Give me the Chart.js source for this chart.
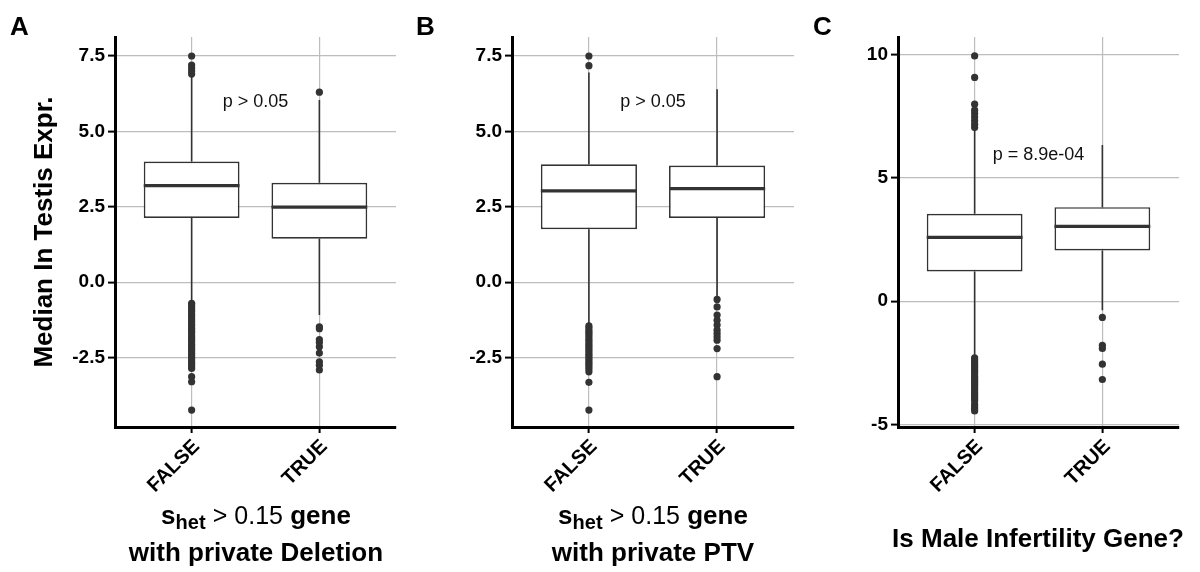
<!DOCTYPE html>
<html>
<head>
<meta charset="utf-8">
<script src="https://cdn.jsdelivr.net/npm/chart.js@4.4.1/dist/chart.umd.min.js"></script>
<style>
  body { margin: 0; background: #fff; }
  #wrap { position: relative; width: 1200px; height: 572px; overflow: hidden; font-family: "Liberation Sans", Arial, sans-serif; color: #000; }
  .panel { position: absolute; top: 0; width: 400px; height: 572px; }
  .letter { position: absolute; top: 11px; font-size: 26px; font-weight: bold; line-height: 30px; }
  .xtitle { position: absolute; width: 400px; text-align: center; font-size: 26px; font-weight: bold; line-height: 37px; white-space: nowrap; }
  .xtitle sub { font-size: 20px; vertical-align: -5px; line-height: 0; }
  .xtitle .rel { font-weight: normal; font-size: 25px; }
</style>
</head>
<body>
<div id="wrap">
  <div class="panel" style="left:0"><canvas id="chart-del" width="400" height="572"></canvas></div>
  <div class="panel" style="left:400px"><canvas id="chart-ptv" width="400" height="572"></canvas></div>
  <div class="panel" style="left:800px"><canvas id="chart-inf" width="400" height="572"></canvas></div>

  <div class="letter" style="left:10px">A</div>
  <div class="letter" style="left:416px">B</div>
  <div class="letter" style="left:813px">C</div>

  <div class="xtitle" style="left:56px; top:497px">s<sub>het</sub> <span class="rel">&gt; 0.15</span> gene<br>with private Deletion</div>
  <div class="xtitle" style="left:453px; top:497px">s<sub>het</sub> <span class="rel">&gt; 0.15</span> gene<br>with private PTV</div>
  <div class="xtitle" style="left:838px; top:520px">Is Male Infertility Gene?</div>
</div>

<script>
const groups = ["FALSE", "TRUE"];

// A: s_het > 0.15 gene with private Deletion
const delQ1 = [2.13, 1.44];
const delMedian = [3.20, 2.49];
const delQ3 = [4.00, 3.30];
const delLower = [-0.65, -1.09];
const delUpper = [6.85, 6.04];
const delOutliersFalse = [7.50, 7.20, 7.10, 7.00, 6.90,
    -0.70, -0.76, -0.84, -0.92, -0.98, -1.07, -1.14, -1.22, -1.29, -1.38, -1.44, -1.53,
    -1.60, -1.66, -1.75, -1.83, -1.90, -1.97, -2.06, -2.13, -2.21, -2.27, -2.36, -2.44,
    -2.51, -2.58, -2.66, -2.73, -2.80, -2.86, -3.13, -3.30, -4.24];
const delOutliersTrue = [6.30, -1.48, -1.54, -1.90, -2.00, -2.14, -2.35, -2.64, -2.75, -2.91];

// B: s_het > 0.15 gene with private PTV
const ptvQ1 = [1.76, 2.13];
const ptvMedian = [3.03, 3.10];
const ptvQ3 = [3.91, 3.87];
const ptvLower = [-1.40, -0.50];
const ptvUpper = [6.95, 6.40];
const ptvOutliersFalse = [7.50, 7.18,
    -1.45, -1.52, -1.60, -1.67, -1.74, -1.82, -1.90, -1.97, -2.05, -2.12, -2.20, -2.27,
    -2.35, -2.42, -2.50, -2.57, -2.65, -2.72, -2.80, -2.88, -2.97, -3.32, -4.24];
const ptvOutliersTrue = [-0.57, -0.82, -1.09, -1.26, -1.42, -1.59, -1.70, -1.81, -1.92, -2.20, -3.13];

// C: Is male infertility gene?
const infQ1 = [1.21, 2.06];
const infMedian = [2.59, 3.04];
const infQ3 = [3.55, 3.82];
const infLower = [-2.24, -0.37];
const infUpper = [6.95, 6.34];
const infOutliersFalse = [9.96, 9.09, 8.00, 7.76, 7.62, 7.48, 7.33, 7.18, 7.05,
    -2.30, -2.38, -2.46, -2.55, -2.63, -2.71, -2.80, -2.88, -2.96, -3.05, -3.13, -3.22,
    -3.30, -3.38, -3.47, -3.55, -3.63, -3.72, -3.80, -3.88, -3.96, -4.05, -4.20, -4.30,
    -4.38, -4.46];
const infOutliersTrue = [-0.66, -1.79, -1.92, -2.56, -3.18];

// tick labels and p-value annotations
const yTicksAB = [-2.5, 0, 2.5, 5, 7.5];
const yTicksC = [-5, 0, 5, 10];
const pTexts = ["p > 0.05", "p > 0.05", "p = 8.9e-04"];

const DARK = "#333333";
const GRID = "#bdbdbd";
const FONT = '"Liberation Sans", Arial, sans-serif';

Chart.defaults.font.family = FONT;
Chart.defaults.color = "#000";

// median bars and p-value text, placed through the chart scales
const boxExtrasPlugin = {
    id: "boxExtras",
    afterDatasetsDraw(chart, args, opts) {
        const { ctx, scales } = chart;
        const boxes = chart.getDatasetMeta(1).data;
        ctx.save();
        ctx.strokeStyle = DARK;
        ctx.lineWidth = 3.2;
        boxes.forEach((bar, i) => {
            const y = scales.y.getPixelForValue(opts.median[i]);
            ctx.beginPath();
            ctx.moveTo(bar.x - bar.width / 2, y);
            ctx.lineTo(bar.x + bar.width / 2, y);
            ctx.stroke();
        });
        ctx.font = "18px " + FONT;
        ctx.fillStyle = "#111";
        ctx.textAlign = "center";
        ctx.textBaseline = "middle";
        ctx.fillText(opts.text, scales.x.getPixelForValue(1.5), scales.y.getPixelForValue(opts.y));
        ctx.restore();
    },
};

function boxChart(id, s) {
    const outliers = [
        ...s.outFalse.map((v) => ({ x: 1, y: v })),
        ...s.outTrue.map((v) => ({ x: 2, y: v })),
    ];
    const whiskers = [];
    groups.forEach((g, i) => {
        whiskers.push({ x: i + 1, y: s.q3[i] }, { x: i + 1, y: s.hi[i] }, { x: i + 1, y: null });
        whiskers.push({ x: i + 1, y: s.lo[i] }, { x: i + 1, y: s.q1[i] }, { x: i + 1, y: null });
    });

    return new Chart(document.getElementById(id), {
        type: "bar",
        data: {
            datasets: [
                {
                    type: "scatter",
                    data: outliers,
                    pointRadius: 3.6,
                    pointBackgroundColor: DARK,
                    pointBorderWidth: 0,
                    order: 1,
                },
                {
                    data: groups.map((g, i) => ({ x: i + 1, y: [s.q1[i], s.q3[i]] })),
                    backgroundColor: "#fff",
                    borderColor: DARK,
                    borderWidth: 1.7,
                    borderSkipped: false,
                    categoryPercentage: 1,
                    barPercentage: 0.75,
                    order: 2,
                },
                {
                    type: "line",
                    data: whiskers,
                    borderColor: DARK,
                    borderWidth: 1.6,
                    pointRadius: 0,
                    spanGaps: false,
                    order: 3,
                },
            ],
        },
        options: {
            responsive: false,
            animation: false,
            layout: { padding: { left: 0, top: 37, right: s.padRight, bottom: 572 - 427 - 85 } },
            plugins: {
                legend: { display: false },
                tooltip: { enabled: false },
                boxExtras: { median: s.med, text: s.pText, y: s.pY },
            },
            scales: {
                x: {
                    type: "linear",
                    min: 0.4,
                    max: 2.6,
                    offset: false,
                    afterBuildTicks: (axis) => { axis.ticks = groups.map((g, i) => ({ value: i + 1 })); },
                    afterFit: (axis) => { axis.height = 85; },
                    ticks: {
                        callback: (v) => groups[v - 1],
                        minRotation: 45,
                        maxRotation: 45,
                        padding: 2,
                        labelOffset: 5,
                        color: "#000",
                        font: { size: 20, weight: "bold" },
                    },
                    grid: { color: GRID, lineWidth: 1.2, offset: false, tickColor: "#000", tickWidth: 2, tickLength: 6 },
                    border: { color: "#000", width: 3 },
                },
                y: {
                    min: s.yMin,
                    max: s.yMax,
                    afterBuildTicks: (axis) => { axis.ticks = s.yTicks.map((v) => ({ value: v })); },
                    afterFit: (axis) => { axis.width = s.axisWidth; },
                    ticks: {
                        callback: s.fmt,
                        padding: 3,
                        color: "#000",
                        font: { size: 19, weight: "bold" },
                    },
                    grid: { color: GRID, lineWidth: 1.2, tickColor: "#000", tickWidth: 2, tickLength: 7 },
                    border: { color: "#000", width: 3 },
                    title: {
                        display: !!s.yTitle,
                        text: s.yTitle || "",
                        color: "#000",
                        font: { size: 26, weight: "bold" },
                        padding: { top: 29, bottom: 0 },
                    },
                },
            },
        },
        plugins: [boxExtrasPlugin],
    });
}

boxChart("chart-del", {
    q1: delQ1, med: delMedian, q3: delQ3, lo: delLower, hi: delUpper,
    outFalse: delOutliersFalse, outTrue: delOutliersTrue,
    yMin: -4.8, yMax: 8.13, yTicks: yTicksAB, fmt: (v) => v.toFixed(1),
    axisWidth: 115, padRight: 3, yTitle: "Median In Testis Expr.",
    pText: pTexts[0], pY: 5.98,
});

boxChart("chart-ptv", {
    q1: ptvQ1, med: ptvMedian, q3: ptvQ3, lo: ptvLower, hi: ptvUpper,
    outFalse: ptvOutliersFalse, outTrue: ptvOutliersTrue,
    yMin: -4.8, yMax: 8.13, yTicks: yTicksAB, fmt: (v) => v.toFixed(1),
    axisWidth: 112, padRight: 6,
    pText: pTexts[1], pY: 5.98,
});

boxChart("chart-inf", {
    q1: infQ1, med: infMedian, q3: infQ3, lo: infLower, hi: infUpper,
    outFalse: infOutliersFalse, outTrue: infOutliersTrue,
    yMin: -5.11, yMax: 10.73, yTicks: yTicksC, fmt: (v) => String(v),
    axisWidth: 98, padRight: 21,
    pText: pTexts[2], pY: 5.93,
});
</script>
</body>
</html>
